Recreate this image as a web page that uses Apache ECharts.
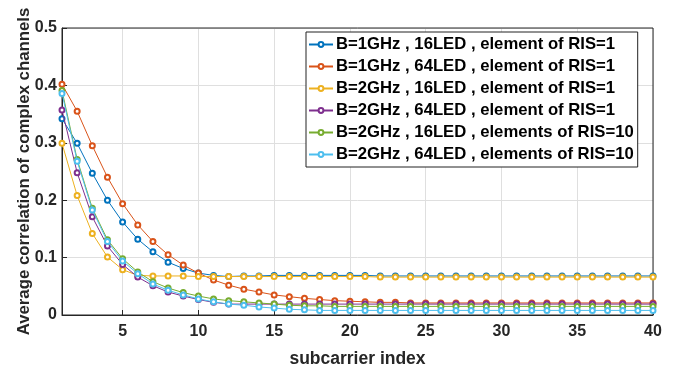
<!DOCTYPE html>
<html>
<head>
<meta charset="utf-8">
<script src="https://cdn.jsdelivr.net/npm/echarts@6/dist/echarts.min.js"></script>
<style>
  html, body { margin: 0; padding: 0; background: #fff; }
  #chart { width: 678px; height: 369px; }
</style>
</head>
<body>
<div id="chart"></div>
<script>
// subcarrier index 1..40
const subcarriers = [];
for (let i = 1; i <= 40; i++) subcarriers.push(i);

const seriesNames = [
  "B=1GHz , 16LED , element of RIS=1",
  "B=1GHz , 64LED , element of RIS=1",
  "B=2GHz , 16LED , element of RIS=1",
  "B=2GHz , 64LED , element of RIS=1",
  "B=2GHz , 16LED , elements of RIS=10",
  "B=2GHz , 64LED , elements of RIS=10"
];
const colors = ["#0072BD", "#D95319", "#EDB120", "#7E2F8E", "#77AC30", "#4DBEEE"];

// values
const b1g16 = [0.342, 0.299, 0.247, 0.200, 0.162, 0.132, 0.110, 0.092, 0.081, 0.073, 0.069, 0.067, 0.068, 0.068, 0.069, 0.069, 0.069, 0.069, 0.069, 0.069,
  0.069, 0.068, 0.068, 0.068, 0.068, 0.068, 0.068, 0.068, 0.068, 0.068, 0.068, 0.068, 0.068, 0.068, 0.068, 0.068, 0.068, 0.068, 0.068, 0.068];
const b1g64 = [0.402, 0.355, 0.295, 0.240, 0.194, 0.157, 0.128, 0.105, 0.087, 0.073, 0.061, 0.052, 0.045, 0.040, 0.035, 0.032, 0.029, 0.027, 0.025, 0.024,
  0.023, 0.022, 0.022, 0.021, 0.021, 0.021, 0.021, 0.021, 0.021, 0.021, 0.021, 0.021, 0.021, 0.021, 0.021, 0.021, 0.021, 0.021, 0.021, 0.021];
const b2g16 = [0.299, 0.208, 0.142, 0.101, 0.079, 0.069, 0.068, 0.068, 0.068, 0.067, 0.067, 0.067, 0.067, 0.067, 0.067, 0.067, 0.067, 0.067, 0.067, 0.067,
  0.067, 0.066, 0.066, 0.066, 0.066, 0.066, 0.066, 0.066, 0.066, 0.066, 0.066, 0.066, 0.066, 0.066, 0.066, 0.066, 0.066, 0.066, 0.066, 0.066];
const b2g64 = [0.357, 0.248, 0.171, 0.120, 0.088, 0.066, 0.051, 0.040, 0.033, 0.027, 0.022, 0.019, 0.019, 0.019, 0.019, 0.019, 0.019, 0.019, 0.019, 0.019,
  0.019, 0.019, 0.019, 0.019, 0.019, 0.019, 0.019, 0.019, 0.019, 0.019, 0.019, 0.019, 0.019, 0.019, 0.019, 0.019, 0.019, 0.019, 0.019, 0.019];
const b2g16ris = [0.391, 0.271, 0.186, 0.131, 0.098, 0.075, 0.058, 0.047, 0.039, 0.033, 0.028, 0.025, 0.023, 0.021, 0.019, 0.017, 0.016, 0.016, 0.015, 0.015,
  0.015, 0.015, 0.015, 0.015, 0.015, 0.015, 0.015, 0.015, 0.015, 0.015, 0.015, 0.015, 0.015, 0.015, 0.015, 0.015, 0.015, 0.015, 0.015, 0.015];
const b2g64ris = [0.386, 0.268, 0.183, 0.128, 0.094, 0.072, 0.054, 0.043, 0.035, 0.028, 0.023, 0.019, 0.017, 0.014, 0.012, 0.010, 0.009, 0.008, 0.008, 0.008,
  0.008, 0.008, 0.008, 0.008, 0.008, 0.008, 0.008, 0.008, 0.008, 0.008, 0.008, 0.008, 0.008, 0.008, 0.008, 0.008, 0.008, 0.008, 0.008, 0.008];

const xTicks = [5, 10, 15, 20, 25, 30, 35, 40];
const allData = [b1g16, b1g64, b2g16, b2g64, b2g16ris, b2g64ris];

const font = "'Liberation Sans', Arial, sans-serif";
const chart = echarts.init(document.getElementById("chart"));

const series = allData.map((vals, k) => ({
  name: seriesNames[k],
  type: "line",
  data: vals.map((v, i) => [subcarriers[i], v]),
  symbol: "emptyCircle",
  symbolSize: 5,
  showSymbol: true,
  lineStyle: { width: 1, color: colors[k] },
  itemStyle: { color: colors[k], borderWidth: 1 },
  z: 2 + k
}));

chart.setOption({
  animation: false,
  color: colors,
  grid: { left: 62, right: 25, top: 28, bottom: 54, show: false, containLabel: false, outerBoundsMode: "none" },
  legend: {
    orient: "vertical",
    left: 306,
    top: 32,
    itemWidth: 24,
    itemHeight: 6,
    itemGap: 5,
    padding: [4, 4, 4, 2],
    backgroundColor: "#fff",
    borderColor: "#222",
    borderWidth: 1,
    textStyle: { fontFamily: font, fontWeight: "bold", fontSize: 16.7, color: "#000", padding: [0, 0, 0, -2] },
    data: seriesNames
  },
  xAxis: {
    type: "value",
    min: 1,
    max: 40,
    name: "subcarrier index",
    nameLocation: "middle",
    nameGap: 35,
    nameMoveOverlap: false,
    nameTextStyle: { fontFamily: font, fontWeight: "bold", fontSize: 17.5, color: "#262626" },
    axisLine: { show: true, onZero: false, lineStyle: { color: "#262626", width: 1 } },
    axisTick: { show: true, inside: true, length: 5, customValues: xTicks, lineStyle: { color: "#262626" } },
    axisLabel: { customValues: xTicks, fontFamily: font, fontWeight: "bold", fontSize: 16, color: "#262626", margin: 9 },
    splitLine: { show: true, lineStyle: { color: "#dfdfdf", width: 1 } }
  },
  yAxis: {
    type: "value",
    min: 0,
    max: 0.5,
    interval: 0.1,
    name: "Average correlation of complex channels",
    nameLocation: "middle",
    nameGap: 29,
    nameMoveOverlap: false,
    nameTextStyle: { fontFamily: font, fontWeight: "bold", fontSize: 16.8, color: "#262626" },
    axisLine: { show: true, lineStyle: { color: "#262626", width: 1 } },
    axisTick: { show: true, inside: true, length: 5, lineStyle: { color: "#262626" } },
    axisLabel: { fontFamily: font, fontWeight: "bold", fontSize: 16, color: "#262626", margin: 5 },
    splitLine: { show: true, lineStyle: { color: "#dfdfdf", width: 1 } }
  },
  series: series
});

// box on top and right like the original frame
chart.setOption({
  graphic: [{
    type: "rect",
    shape: { x: 62, y: 28, width: 678 - 62 - 25, height: 369 - 28 - 54 },
    style: { fill: "none", stroke: "#262626", lineWidth: 1 },
    silent: true,
    z: 0
  }]
});
</script>
</body>
</html>
